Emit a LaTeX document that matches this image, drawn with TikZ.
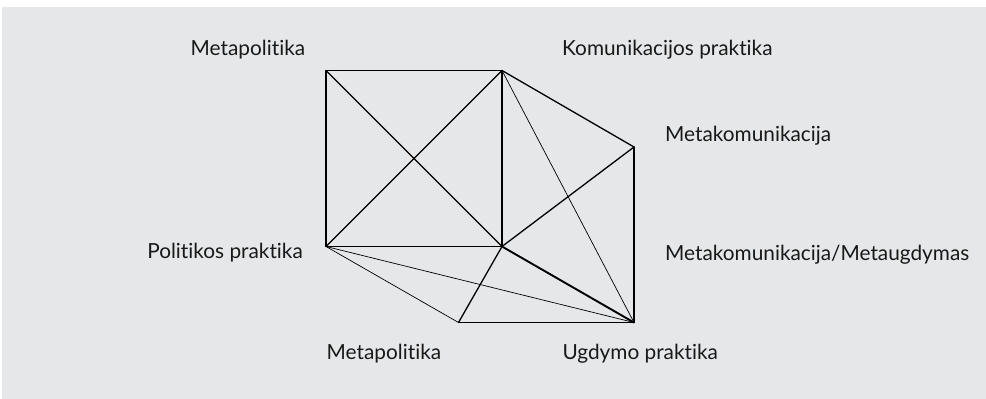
\documentclass[tikz,border=0pt]{standalone}
\usepackage{fontspec}
\setmainfont[Ligatures={NoCommon,NoRare,NoContextual}]{Lato}
\definecolor{panel}{RGB}{230,231,232}
\tikzset{
  edge/.style={line width=1.3pt, line join=round, line cap=round},
  thinedge/.style={line width=0.7pt, line cap=round},
  heavyedge/.style={line width=1.9pt, line cap=round},
  lbl/.style={anchor=base west, inner sep=0pt, font=\fontsize{20.8}{24}\selectfont, text=black!90},
  vtx/.style={coordinate}
}
\begin{document}
\begin{tikzpicture}[x=1pt,y=-1pt]
  % canvas and grey panel
  \useasboundingbox (0,0) rectangle (986,399);
  \fill[white] (0,0) rectangle (986,399);
  \fill[panel] (2,7) rectangle (986,399);

  % vertices
  \node[vtx] (tl) at (326,70.5) {};
  \node[vtx] (tr) at (502,70.5) {};
  \node[vtx] (bl) at (326,246.5) {};
  \node[vtx] (br) at (502,246.5) {};
  \node[vtx] (mk) at (634,147) {};
  \node[vtx] (ug) at (634,322.5) {};
  \node[vtx] (mp) at (458.5,322.5) {};

  % square with its diagonals
  \draw[edge] (tl) -- (tr) -- (br) -- (bl) -- cycle;
  \draw[edge] (tl) -- (br);
  \draw[edge] (bl) -- (tr);

  % right-hand part
  \draw[edge] (tr) -- (mk);
  \draw[edge] (mk) -- (ug);
  \draw[edge] (mk) -- (br);
  \draw[thinedge] (tr) -- (ug);
  \draw[heavyedge] (br) -- (ug);

  % lower part
  \draw[edge] (br) -- (mp);
  \draw[edge] (mp) -- (ug);
  \draw[thinedge] (bl) -- (mp);
  \draw[thinedge] (bl) -- (ug);

  % labels
  \node[lbl] (l1) at (190.5,55) {Metapolitika};
  \node[lbl] (l2) at (562,55) {Komunikacijos praktika};
  \node[lbl] (l3) at (665,141.7) {Metakomunikacija};
  \node[lbl] (l4) at (665,260.7) {Metakomunikacija/Metaugdymas};
  \node[lbl, anchor=base east] (l5) at (303,258.3) {Politikos praktika};
  \node[lbl] (l6) at (326.5,359.3) {Metapolitika};
  \node[lbl] (l7) at (562.3,359.3) {Ugdymo praktika};
\end{tikzpicture}
\end{document}
